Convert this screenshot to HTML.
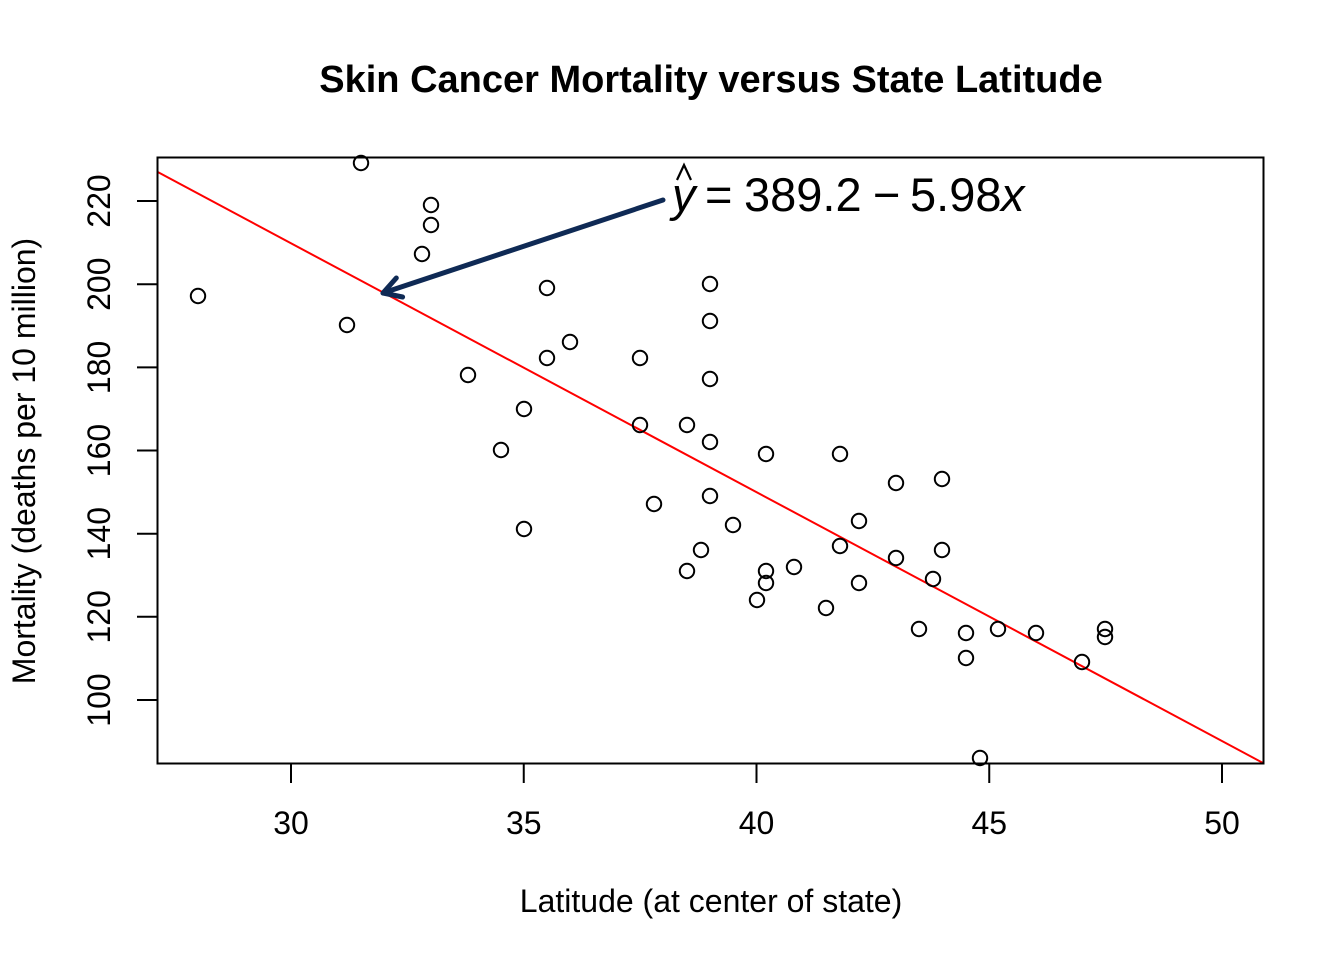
<!DOCTYPE html>
<html>
<head>
<meta charset="utf-8">
<style>
  html, body { margin: 0; padding: 0; background: #ffffff; }
  svg { display: block; }
  text { font-family: "Liberation Sans", Arial, Helvetica, sans-serif; fill: #000; }
</style>
</head>
<body>
<svg width="1344" height="960" viewBox="0 0 1344 960" xmlns="http://www.w3.org/2000/svg">
  <rect x="0" y="0" width="1344" height="960" fill="#ffffff"/>
  <defs>
    <clipPath id="plotclip">
      <rect x="157.5" y="157.5" width="1106" height="606"/>
    </clipPath>
  </defs>

  <text x="711" y="92" font-size="38" font-weight="bold" text-anchor="middle">Skin Cancer Mortality versus State Latitude</text>

  <line x1="157.5" y1="171.9" x2="1263.5" y2="763.2" stroke="#ff0000" stroke-width="2" clip-path="url(#plotclip)"/>

  <g fill="none" stroke="#000" stroke-width="2">
    <circle cx="198" cy="296" r="7.2"/>
    <circle cx="361" cy="163" r="7.2"/>
    <circle cx="347" cy="325" r="7.2"/>
    <circle cx="431" cy="205" r="7.2"/>
    <circle cx="431" cy="225" r="7.2"/>
    <circle cx="422" cy="254" r="7.2"/>
    <circle cx="468" cy="375" r="7.2"/>
    <circle cx="501" cy="450" r="7.2"/>
    <circle cx="524" cy="409" r="7.2"/>
    <circle cx="524" cy="529" r="7.2"/>
    <circle cx="547" cy="288" r="7.2"/>
    <circle cx="547" cy="358" r="7.2"/>
    <circle cx="570" cy="342" r="7.2"/>
    <circle cx="640" cy="358" r="7.2"/>
    <circle cx="640" cy="425" r="7.2"/>
    <circle cx="654" cy="504" r="7.2"/>
    <circle cx="687" cy="425" r="7.2"/>
    <circle cx="687" cy="571" r="7.2"/>
    <circle cx="701" cy="550" r="7.2"/>
    <circle cx="710" cy="284" r="7.2"/>
    <circle cx="710" cy="321" r="7.2"/>
    <circle cx="710" cy="379" r="7.2"/>
    <circle cx="710" cy="442" r="7.2"/>
    <circle cx="710" cy="496" r="7.2"/>
    <circle cx="733" cy="525" r="7.2"/>
    <circle cx="757" cy="600" r="7.2"/>
    <circle cx="766" cy="454" r="7.2"/>
    <circle cx="766" cy="571" r="7.2"/>
    <circle cx="766" cy="583" r="7.2"/>
    <circle cx="794" cy="567" r="7.2"/>
    <circle cx="826" cy="608" r="7.2"/>
    <circle cx="840" cy="454" r="7.2"/>
    <circle cx="840" cy="546" r="7.2"/>
    <circle cx="859" cy="521" r="7.2"/>
    <circle cx="859" cy="583" r="7.2"/>
    <circle cx="896" cy="483" r="7.2"/>
    <circle cx="896" cy="558" r="7.2"/>
    <circle cx="919" cy="629" r="7.2"/>
    <circle cx="933" cy="579" r="7.2"/>
    <circle cx="942" cy="479" r="7.2"/>
    <circle cx="942" cy="550" r="7.2"/>
    <circle cx="966" cy="633" r="7.2"/>
    <circle cx="966" cy="658" r="7.2"/>
    <circle cx="980" cy="758" r="7.2"/>
    <circle cx="998" cy="629" r="7.2"/>
    <circle cx="1036" cy="633" r="7.2"/>
    <circle cx="1082" cy="662" r="7.2"/>
    <circle cx="1105" cy="629" r="7.2"/>
    <circle cx="1105" cy="637" r="7.2"/>
  </g>

  <rect x="157.5" y="157.5" width="1106" height="606" fill="none" stroke="#000" stroke-width="2"/>

  <g stroke="#000" stroke-width="2">
    <line x1="291" y1="763.5" x2="1222" y2="763.5"/>
    <line x1="291" y1="763.5" x2="291" y2="783"/>
    <line x1="523.75" y1="763.5" x2="523.75" y2="783"/>
    <line x1="756.5" y1="763.5" x2="756.5" y2="783"/>
    <line x1="989.25" y1="763.5" x2="989.25" y2="783"/>
    <line x1="1222" y1="763.5" x2="1222" y2="783"/>
  </g>
  <g font-size="32" text-anchor="middle">
    <text x="291" y="834">30</text>
    <text x="523.75" y="834">35</text>
    <text x="756.5" y="834">40</text>
    <text x="989.25" y="834">45</text>
    <text x="1222" y="834">50</text>
  </g>

  <g stroke="#000" stroke-width="2">
    <line x1="157.5" y1="201" x2="157.5" y2="700"/>
    <line x1="137" y1="201" x2="157.5" y2="201"/>
    <line x1="137" y1="284.2" x2="157.5" y2="284.2"/>
    <line x1="137" y1="367.4" x2="157.5" y2="367.4"/>
    <line x1="137" y1="450.5" x2="157.5" y2="450.5"/>
    <line x1="137" y1="533.7" x2="157.5" y2="533.7"/>
    <line x1="137" y1="616.8" x2="157.5" y2="616.8"/>
    <line x1="137" y1="700" x2="157.5" y2="700"/>
  </g>
  <g font-size="32" text-anchor="middle">
    <text x="110" y="201" transform="rotate(-90 110 201)">220</text>
    <text x="110" y="284.2" transform="rotate(-90 110 284.2)">200</text>
    <text x="110" y="367.4" transform="rotate(-90 110 367.4)">180</text>
    <text x="110" y="450.5" transform="rotate(-90 110 450.5)">160</text>
    <text x="110" y="533.7" transform="rotate(-90 110 533.7)">140</text>
    <text x="110" y="616.8" transform="rotate(-90 110 616.8)">120</text>
    <text x="110" y="700" transform="rotate(-90 110 700)">100</text>
  </g>

  <text x="711" y="912" font-size="32" text-anchor="middle">Latitude (at center of state)</text>
  <text x="35" y="461" font-size="32" text-anchor="middle" transform="rotate(-90 35 461)">Mortality (deaths per 10 million)</text>

  <g stroke="#0f2a55" stroke-width="5" stroke-linecap="round" stroke-linejoin="round" fill="none">
    <line x1="663" y1="200" x2="383" y2="293"/>
    <polyline points="396.3,278 383,293 402.6,297"/>
  </g>

  <g font-size="47">
    <text x="672" y="211" font-style="italic">y</text>
    <polyline points="677,180 684,165 691,180" fill="none" stroke="#000" stroke-width="2.2"/>
    <text x="705" y="211">=</text>
    <text x="744" y="211">389.2</text>
    <text x="873" y="211">−</text>
    <text x="910" y="211">5.98</text>
    <text x="1001" y="211" font-style="italic">x</text>
  </g>
</svg>
</body>
</html>
